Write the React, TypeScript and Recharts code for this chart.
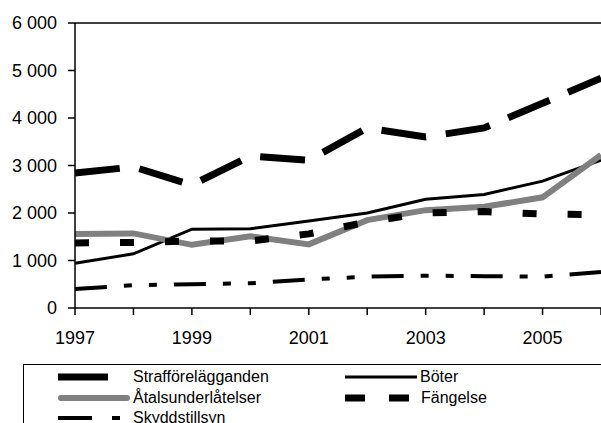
import { LineChart, Line, XAxis, YAxis, ReferenceLine } from "recharts";

const years = [1997, 1998, 1999, 2000, 2001, 2002, 2003, 2004, 2005, 2006];
const strafforelagganden = [2840, 2970, 2590, 3200, 3110, 3790, 3600, 3790, 4310, 4840];
const boter = [940, 1140, 1660, 1670, 1830, 2000, 2290, 2390, 2670, 3110];
const atalsunderlatelser = [1560, 1570, 1330, 1510, 1340, 1850, 2060, 2130, 2330, 3220];
const fangelse = [1370, 1380, 1410, 1410, 1560, 1810, 2000, 2030, 1980, 1960];
const skyddstillsyn = [400, 480, 500, 520, 600, 660, 680, 670, 660, 760];
const yTicks = [0, 1000, 2000, 3000, 4000, 5000, 6000];

const data = years.map((year, i) => ({
  year,
  straff: strafforelagganden[i],
  boter: boter[i],
  atal: atalsunderlatelser[i],
  fang: fangelse[i],
  skydd: skyddstillsyn[i],
}));

const font = "'Liberation Sans', Arial, sans-serif";

const series = [
  { key: "straff", name: "Strafförelägganden", color: "#000", width: 7, dash: "45 20", legendDash: "50 30" },
  { key: "boter", name: "Böter", color: "#000", width: 3, dash: undefined, legendDash: undefined },
  { key: "atal", name: "Åtalsunderlåtelser", color: "#808080", width: 6, dash: undefined, legendDash: undefined },
  { key: "fang", name: "Fängelse", color: "#000", width: 7, dash: "14 31", legendDash: "20 24" },
  { key: "skydd", name: "Skyddstillsyn", color: "#000", width: 4, dash: "32 17 8 17 8 17", legendDash: "34 20 8 20" },
];

// legend rows: [left column, right column]
const legendRows = [
  ["straff", "boter"],
  ["atal", "fang"],
  ["skydd", null],
];

function LegendItem({ k, x }: { k: string | null; x: number }) {
  const s = series.find((d) => d.key === k);
  if (!s) return null;
  return (
    <div style={{ position: "absolute", left: x, top: 0, display: "flex", alignItems: "center", height: 20 }}>
      <svg width={72} height={12} style={{ display: "block" }}>
        <line x1={s.key === "atal" ? 3 : 0} y1={6} x2={s.key === "atal" ? 69 : 72} y2={6} stroke={s.color} strokeWidth={s.width} strokeDasharray={s.legendDash} strokeLinecap={s.key === "atal" ? "round" : "butt"} />
      </svg>
      <span style={{ marginLeft: s.key === "fang" ? 4 : 3, fontSize: 16, color: "#000", whiteSpace: "nowrap" }}>{s.name}</span>
    </div>
  );
}

export default function App() {
  return (
    <div style={{ position: "absolute", left: 0, top: 0, width: 601, height: 423, overflow: "hidden", fontFamily: font }}>
      <LineChart width={601} height={423} data={data} margin={{ top: 23, right: 0, left: 0, bottom: 0 }}>
        <XAxis
          dataKey="year"
          type="number"
          domain={[1997, 2006]}
          ticks={years}
          tickFormatter={(v) => (v % 2 === 1 ? String(v) : "")}
          height={115}
          stroke="#000"
          strokeWidth={1.5}
          tickSize={7}
          tickMargin={16}
          tick={{ fill: "#000", fontSize: 18, fontFamily: font }}
        />
        <YAxis
          type="number"
          domain={[0, 6000]}
          ticks={yTicks}
          tickFormatter={(v) => (v >= 1000 ? `${Math.floor(v / 1000)} ${String(v % 1000).padStart(3, "0")}` : String(v))}
          width={75}
          stroke="#000"
          strokeWidth={1.5}
          tickSize={7}
          tickMargin={11}
          tick={{ fill: "#000", fontSize: 18, fontFamily: font }}
        />
        <ReferenceLine y={6000} stroke="#000" strokeWidth={1.5} />
        {series.map((s) => (
          <Line
            key={s.key}
            dataKey={s.key}
            name={s.name}
            stroke={s.color}
            strokeWidth={s.width}
            strokeDasharray={s.dash}
            dot={false}
            activeDot={false}
            type="linear"
            isAnimationActive={false}
          />
        ))}
      </LineChart>
      <div style={{ position: "absolute", left: 23, top: 364, width: 640, height: 80, border: "1px solid #000" }}>
        {legendRows.map((row, i) => (
          <div key={i} style={{ position: "absolute", left: 0, top: 2 + i * 20.5, width: 640, height: 20 }}>
            <LegendItem k={row[0]} x={34} />
            <LegendItem k={row[1]} x={321} />
          </div>
        ))}
      </div>
    </div>
  );
}
